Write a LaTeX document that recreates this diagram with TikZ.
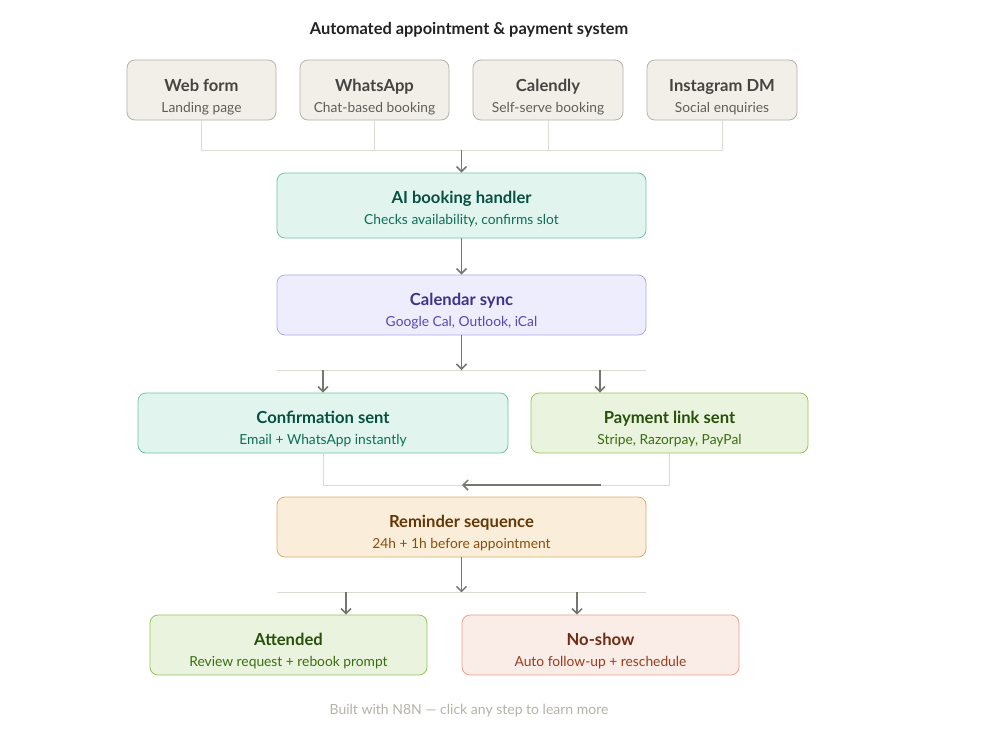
\documentclass[tikz,border=0pt]{standalone}
\usepackage{fontspec}
\setmainfont{Lato}
\usetikzlibrary{arrows.meta}
% palettes: F fill, B border, T title, S sub
\definecolor{grayF}{HTML}{F1EFE8}\definecolor{grayB}{HTML}{B4B2A9}\definecolor{grayT}{HTML}{444441}\definecolor{grayS}{HTML}{5F5E5A}
\definecolor{tealF}{HTML}{E1F5EE}\definecolor{tealB}{HTML}{6FC4A6}\definecolor{tealT}{HTML}{085041}\definecolor{tealS}{HTML}{0F6E56}
\definecolor{purpF}{HTML}{EEEDFE}\definecolor{purpB}{HTML}{AFA9EC}\definecolor{purpT}{HTML}{3C3489}\definecolor{purpS}{HTML}{534AB7}
\definecolor{grnF}{HTML}{EAF3DE}\definecolor{grnB}{HTML}{97C459}\definecolor{grnT}{HTML}{27500A}\definecolor{grnS}{HTML}{3B6D11}
\definecolor{ambF}{HTML}{FAEEDA}\definecolor{ambB}{HTML}{D9AC72}\definecolor{ambT}{HTML}{633806}\definecolor{ambS}{HTML}{854F0B}
\definecolor{corF}{HTML}{FAECE7}\definecolor{corB}{HTML}{E9A08A}\definecolor{corT}{HTML}{712B13}\definecolor{corS}{HTML}{993C1D}
\definecolor{linkc}{HTML}{DCDAD2}
\definecolor{arrc}{HTML}{767570}
\definecolor{headc}{HTML}{222222}
\definecolor{footc}{HTML}{B4B2A9}
\newcommand\titlef{\fontsize{16.6}{19}\selectfont\bfseries}
\newcommand\subf{\fontsize{13.8}{16}\selectfont}
% name, scheme, x1, y1, x2, y2, title, sub, title baseline
\newcommand\mkbox[9]{%
  \node[stepbox, fill=#2F, draw=#2B, minimum width={#5-#3}, minimum height={#6-#4}]
    (#1) at ({(#3+#5)/2},{(#4+#6)/2}) {};
  \node[anchor=base, font=\titlef, text=#2T, inner sep=0pt] (#1t) at ({(#3+#5)/2},#9) {#7};
  \node[anchor=base, font=\subf, text=#2S, inner sep=0pt] (#1s) at ({(#3+#5)/2},{#9+20.5}) {#8};
}
\begin{document}
\begin{tikzpicture}[x=1pt,y=-1pt,
  stepbox/.style={rounded corners=8pt, line width=0.8pt, inner sep=0pt},
  link/.style={draw=linkc, line width=0.9pt},
  arr/.style={draw=arrc, line width=1.5pt, -{Straight Barb[length=5pt,width=10pt,line width=1.5pt]}}]
\useasboundingbox (0,0) rectangle (1000,750);
\fill[white] (0,0) rectangle (1000,750);

\node[anchor=base, font=\fontsize{16.4}{19}\selectfont\bfseries, text=headc] (head) at (469,34.5) {Automated appointment \& payment system};

\mkbox{web}{gray}{127}{60}{276}{120}{Web form}{Landing page}{91.5}
\mkbox{wa}{gray}{300}{60}{449}{120}{WhatsApp}{Chat-based booking}{91.5}
\mkbox{cly}{gray}{473}{60}{623}{120}{Calendly}{Self-serve booking}{91.5}
\mkbox{ig}{gray}{647}{60}{797}{120}{Instagram DM}{Social enquiries}{91.5}

\mkbox{ai}{teal}{277}{173}{646}{238}{AI booking handler}{Checks availability, confirms slot}{203.5}
\mkbox{cal}{purp}{277}{275}{646}{335}{Calendar sync}{Google Cal, Outlook, iCal}{305.5}
\mkbox{conf}{teal}{138}{393}{508}{453}{Confirmation sent}{Email + WhatsApp instantly}{423.5}
\mkbox{pay}{grn}{531}{393}{808}{453}{Payment link sent}{Stripe, Razorpay, PayPal}{423.5}
\mkbox{rem}{amb}{277}{497}{646}{557}{Reminder sequence}{24h + 1h before appointment}{527.5}
\mkbox{att}{grn}{150}{615}{427}{675}{Attended}{Review request + rebook prompt}{645.5}
\mkbox{nos}{cor}{462}{615}{739}{675}{No-show}{Auto follow-up + reschedule}{645.5}

% top merge
\coordinate (m1) at (461.5,150);
\draw[link] (web.south) |- (m1 -| ig.south) -- (ig.south);
\draw[link] (wa.south) -- (wa.south |- m1);
\draw[link] (cly.south) -- (cly.south |- m1);
\draw[arr] (m1) -- (ai.north);

\draw[arr] (ai.south) -- (cal.north);

% split 1
\coordinate (s1) at (461.5,370);
\coordinate (s1l) at (277,370);
\coordinate (s1r) at (646,370);
\coordinate (s1b) at (600,370);
\draw[link] (s1l) -- (s1r);
\draw[arr] (cal.south) -- (s1);
\draw[arr] (s1 -| conf.north) -- (conf.north);
\draw[arr] (s1b) -- (s1b |- pay.north);

% merge 2
\coordinate (m2) at (0,485);
\coordinate (m2a) at (601,485);
\coordinate (m2b) at (462,485);
\draw[link] (conf.south) |- (m2 -| pay.south) -- (pay.south);
\draw[arr] (m2a) -- (m2b);

\draw[arr] (rem.south) -- ++(0,35) coordinate (s2);

% split 2
\coordinate (s2l) at (277,592);
\coordinate (s2r) at (646,592);
\coordinate (s2a) at (346,592);
\coordinate (s2b) at (577,592);
\draw[link] (s2l) -- (s2r);
\draw[arr] (s2a) -- (s2a |- att.north);
\draw[arr] (s2b) -- (s2b |- nos.north);

\node[anchor=base, font=\fontsize{14}{16}\selectfont, text=footc] (foot) at (469,714.5) {Built with N8N — click any step to learn more};
\end{tikzpicture}
\end{document}
